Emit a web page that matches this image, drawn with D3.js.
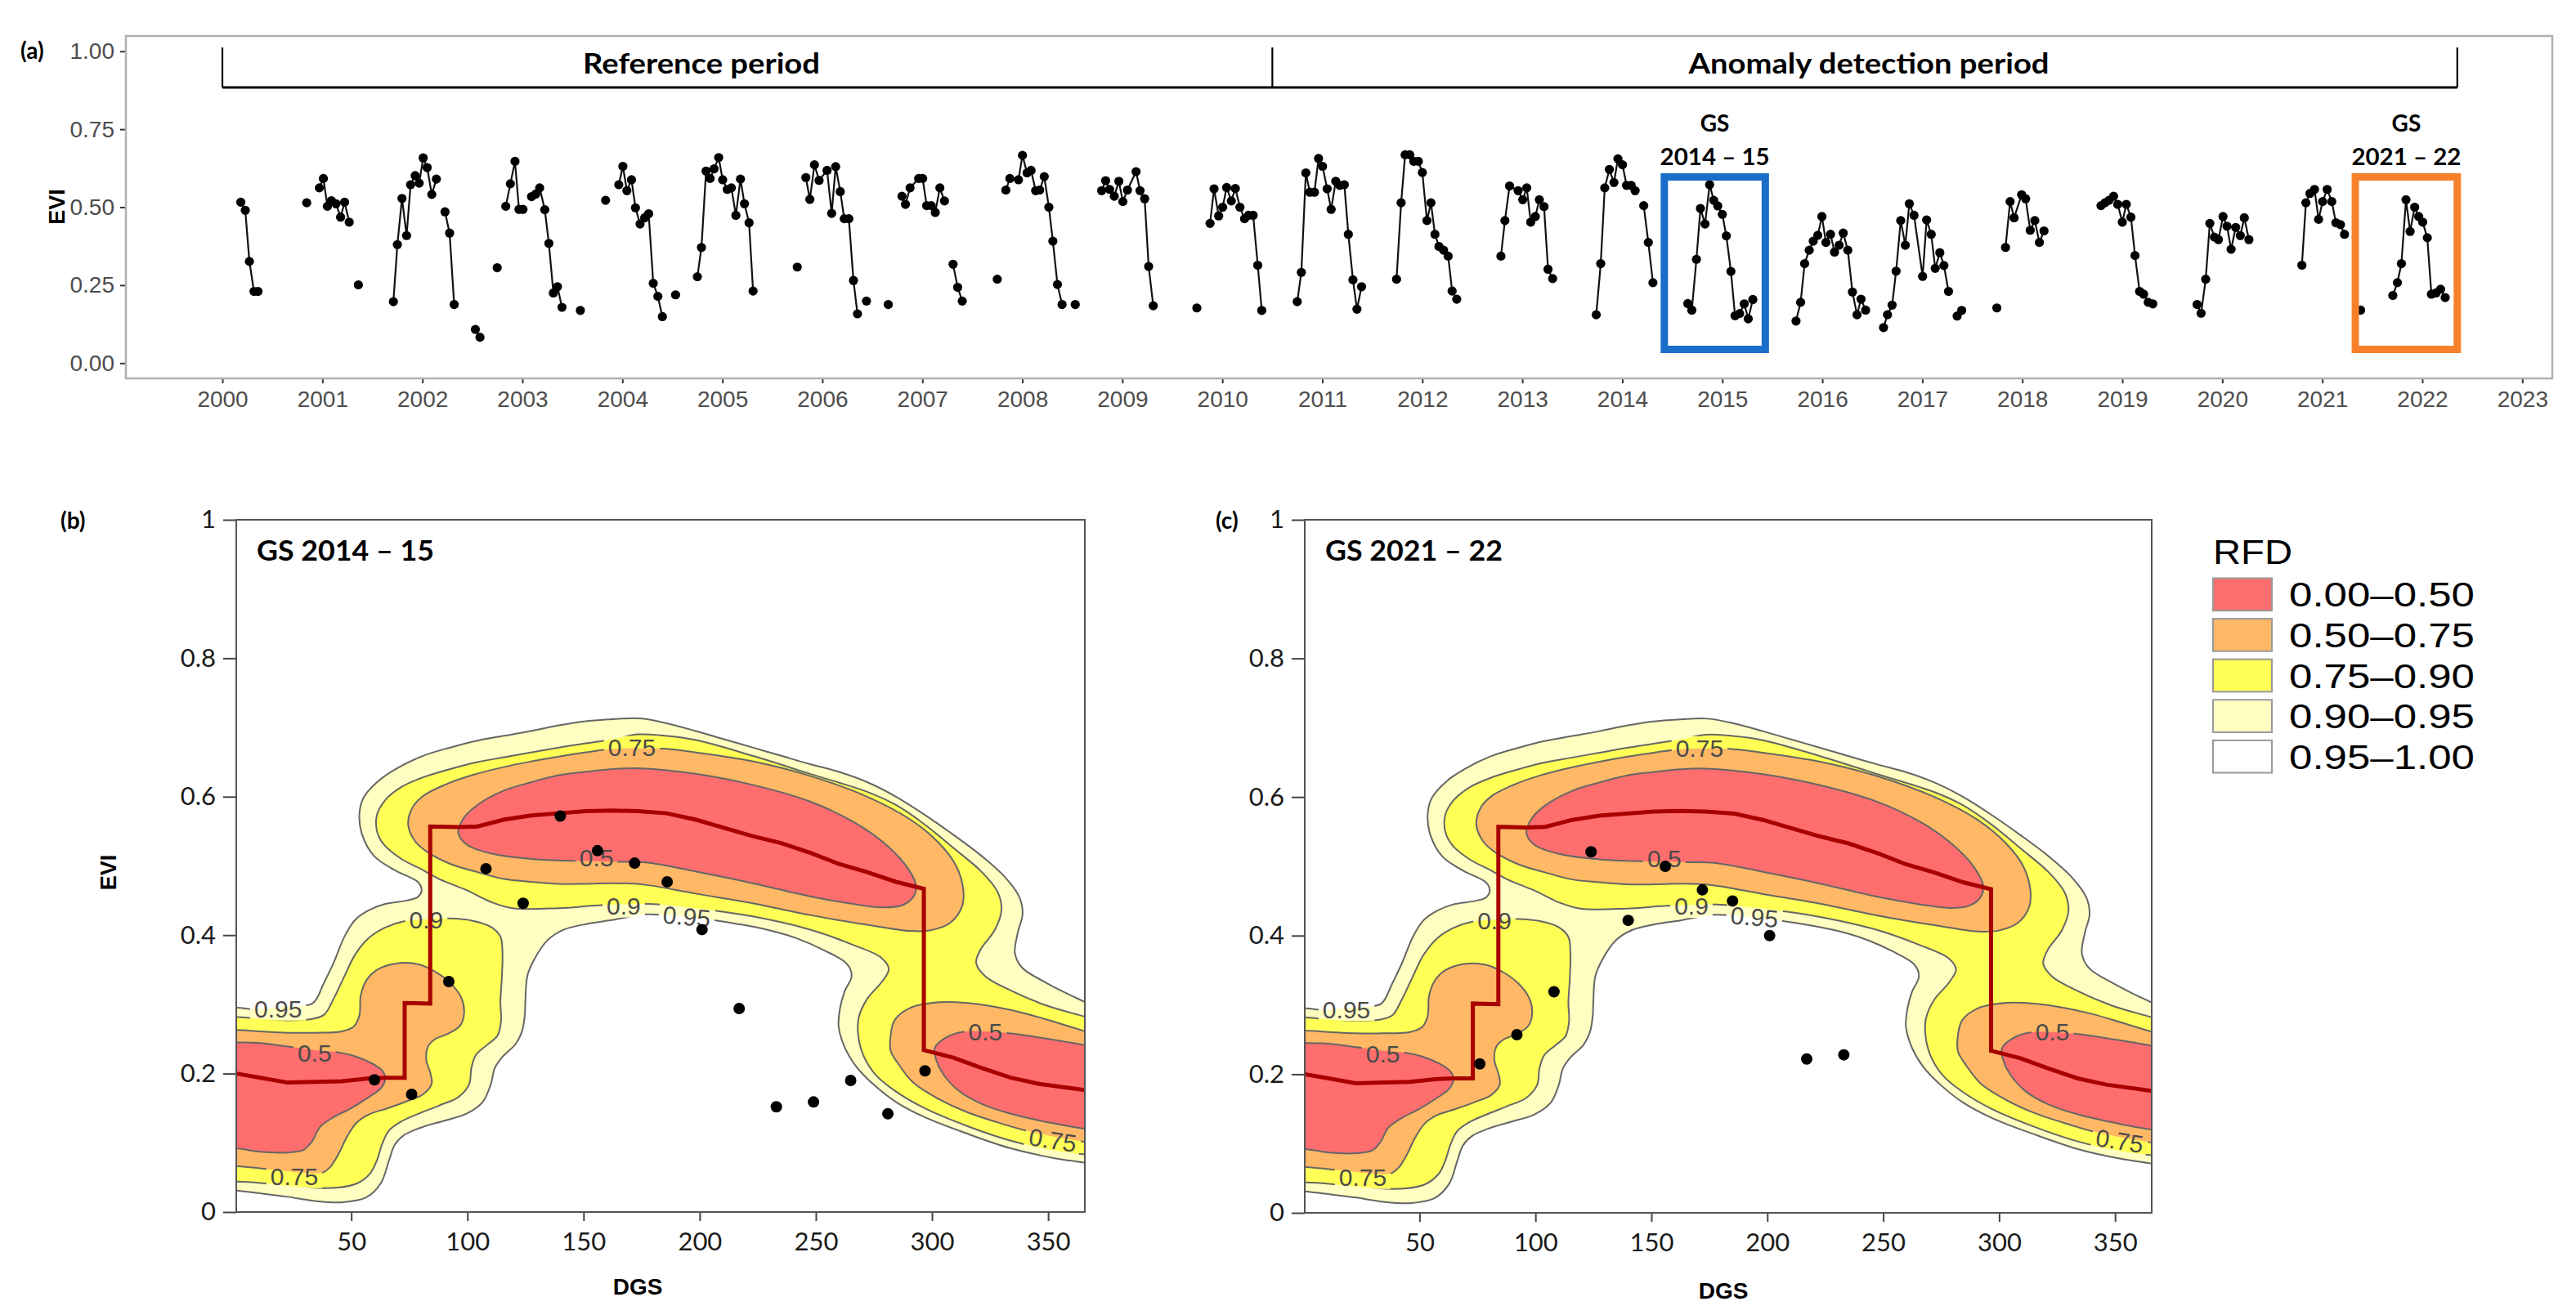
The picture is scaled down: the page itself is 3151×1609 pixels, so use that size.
<!DOCTYPE html>
<html>
<head>
<meta charset="utf-8">
<script src="https://cdn.jsdelivr.net/npm/d3@7"></script>
<style>
  body { margin: 0; background: #fff; }
  svg { display: block; }
</style>
</head>
<body>
<div id="chart"></div>
<script>
// ---------- panel (a): EVI time series, [year, EVI], null = gap ----------
var evi_ts = [
  [2000.184,0.516],[2000.229,0.490],[2000.270,0.326],[2000.316,0.230],[2000.356,0.230], null,
  [2000.843,0.514], null,
  [2000.970,0.562],[2001.010,0.592],[2001.050,0.503],[2001.090,0.521],[2001.136,0.511],[2001.182,0.468],[2001.222,0.516],[2001.268,0.452], null,
  [2001.360,0.251], null,
  [2001.710,0.197],[2001.750,0.380],[2001.796,0.528],[2001.842,0.409],[2001.882,0.572],[2001.928,0.601],[2001.968,0.577],[2002.008,0.658],[2002.048,0.627],[2002.094,0.541],[2002.140,0.590], null,
  [2002.226,0.485],[2002.272,0.417],[2002.318,0.188], null,
  [2002.530,0.108],[2002.576,0.083], null,
  [2002.748,0.306], null,
  [2002.834,0.503],[2002.880,0.575],[2002.926,0.647],[2002.966,0.493],[2003.006,0.493], null,
  [2003.092,0.534],[2003.133,0.542],[2003.173,0.562],[2003.224,0.492],[2003.265,0.384],[2003.310,0.225],[2003.351,0.245],[2003.396,0.179], null,
  [2003.580,0.169], null,
  [2003.832,0.522], null,
  [2003.964,0.572],[2004.005,0.631],[2004.045,0.553],[2004.091,0.588],[2004.131,0.498],[2004.177,0.446],[2004.223,0.466],[2004.263,0.479],[2004.309,0.256],[2004.355,0.214],[2004.400,0.149], null,
  [2004.532,0.219], null,
  [2004.750,0.277],[2004.791,0.371],[2004.837,0.616],[2004.877,0.592],[2004.917,0.623],[2004.963,0.659],[2005.003,0.588],[2005.049,0.557],[2005.090,0.562],[2005.135,0.474],[2005.181,0.590],[2005.221,0.511],[2005.267,0.450],[2005.307,0.231], null,
  [2005.749,0.308], null,
  [2005.835,0.595],[2005.875,0.525],[2005.921,0.636],[2005.967,0.586],[2006.047,0.618],[2006.093,0.480],[2006.133,0.630],[2006.179,0.550],[2006.219,0.463],[2006.265,0.463],[2006.311,0.265],[2006.351,0.158], null,
  [2006.441,0.199], null,
  [2006.659,0.188], null,
  [2006.796,0.535],[2006.831,0.509],[2006.877,0.562],[2006.963,0.592],[2007.003,0.592],[2007.043,0.505],[2007.089,0.505],[2007.129,0.483],[2007.175,0.562],[2007.221,0.520], null,
  [2007.307,0.317],[2007.353,0.243],[2007.399,0.199], null,
  [2007.749,0.269], null,
  [2007.835,0.555],[2007.875,0.592],[2007.961,0.588],[2008.001,0.666],[2008.047,0.610],[2008.087,0.618],[2008.133,0.553],[2008.173,0.555],[2008.219,0.598],[2008.265,0.500],[2008.305,0.391],[2008.351,0.252],[2008.397,0.188], null,
  [2008.529,0.188], null,
  [2008.793,0.553],[2008.833,0.585],[2008.873,0.557],[2008.919,0.535],[2008.965,0.583],[2009.005,0.518],[2009.051,0.555],[2009.137,0.614],[2009.177,0.553],[2009.223,0.527],[2009.263,0.310],[2009.309,0.184], null,
  [2009.745,0.177], null,
  [2009.877,0.448],[2009.917,0.559],[2009.963,0.472],[2010.003,0.500],[2010.043,0.563],[2010.090,0.520],[2010.130,0.560],[2010.176,0.500],[2010.222,0.463],[2010.262,0.474],[2010.308,0.474],[2010.354,0.314],[2010.394,0.169], null,
  [2010.749,0.197],[2010.790,0.291],[2010.835,0.610],[2010.875,0.548],[2010.921,0.548],[2010.962,0.656],[2011.002,0.631],[2011.048,0.559],[2011.088,0.493],[2011.134,0.583],[2011.174,0.570],[2011.220,0.572],[2011.260,0.413],[2011.306,0.267],[2011.346,0.173],[2011.392,0.245], null,
  [2011.742,0.269],[2011.788,0.514],[2011.828,0.668],[2011.874,0.668],[2011.914,0.647],[2011.960,0.647],[2012.000,0.611],[2012.046,0.457],[2012.086,0.514],[2012.126,0.413],[2012.166,0.374],[2012.212,0.362],[2012.258,0.343],[2012.298,0.231],[2012.344,0.205], null,
  [2012.786,0.343],[2012.826,0.457],[2012.872,0.568],[2012.958,0.553],[2013.004,0.524],[2013.044,0.562],[2013.084,0.452],[2013.130,0.470],[2013.170,0.524],[2013.217,0.502],[2013.257,0.301],[2013.303,0.271], null,
  [2013.739,0.155],[2013.784,0.319],[2013.824,0.562],[2013.870,0.621],[2013.916,0.579],[2013.956,0.655],[2014.002,0.636],[2014.042,0.570],[2014.088,0.570],[2014.128,0.553], null,
  [2014.214,0.505],[2014.260,0.387],[2014.306,0.258], null,
  [2014.655,0.191],[2014.695,0.170],[2014.741,0.333],[2014.781,0.496],[2014.827,0.446],[2014.873,0.572],[2014.914,0.522],[2014.954,0.504],[2015.000,0.477],[2015.040,0.408],[2015.086,0.294],[2015.127,0.152],[2015.173,0.159],[2015.219,0.190],[2015.259,0.142],[2015.305,0.204], null,
  [2015.737,0.135],[2015.783,0.195],[2015.823,0.319],[2015.869,0.362],[2015.909,0.391],[2015.955,0.410],[2015.996,0.470],[2016.036,0.387],[2016.082,0.413],[2016.122,0.356],[2016.168,0.378],[2016.209,0.417],[2016.255,0.362],[2016.301,0.228],[2016.347,0.155],[2016.387,0.205],[2016.433,0.170], null,
  [2016.612,0.114],[2016.652,0.155],[2016.698,0.186],[2016.738,0.295],[2016.784,0.457],[2016.830,0.378],[2016.870,0.511],[2016.917,0.474],[2017.003,0.278],[2017.043,0.459],[2017.089,0.413],[2017.129,0.304],[2017.175,0.354],[2017.216,0.313],[2017.262,0.230], null,
  [2017.348,0.151],[2017.394,0.169], null,
  [2017.745,0.177], null,
  [2017.832,0.371],[2017.878,0.518],[2017.918,0.466],[2017.993,0.540],[2018.033,0.527],[2018.079,0.426],[2018.125,0.457],[2018.171,0.387],[2018.217,0.424], null,
  [2018.787,0.505],[2018.827,0.514],[2018.867,0.522],[2018.913,0.535],[2018.954,0.509],[2019.000,0.452],[2019.040,0.509],[2019.086,0.468],[2019.127,0.345],[2019.173,0.230],[2019.213,0.221],[2019.259,0.195],[2019.305,0.190], null,
  [2019.748,0.188],[2019.788,0.160],[2019.834,0.269],[2019.875,0.448],[2019.921,0.404],[2019.961,0.396],[2020.007,0.470],[2020.047,0.439],[2020.088,0.365],[2020.134,0.435],[2020.180,0.409],[2020.220,0.466],[2020.266,0.396], null,
  [2020.796,0.314],[2020.836,0.514],[2020.876,0.544],[2020.922,0.557],[2020.963,0.461],[2021.003,0.518],[2021.049,0.557],[2021.095,0.518],[2021.136,0.450],[2021.182,0.444],[2021.222,0.413], null,
  [2021.383,0.170], null,
  [2021.705,0.217],[2021.751,0.258],[2021.791,0.319],[2021.837,0.524],[2021.878,0.422],[2021.924,0.500],[2021.964,0.470],[2022.004,0.452],[2022.050,0.402],[2022.091,0.221],[2022.137,0.225],[2022.183,0.237],[2022.229,0.210]
];
var yearTicks = [2000,2001,2002,2003,2004,2005,2006,2007,2008,2009,2010,2011,2012,2013,2014,2015,2016,2017,2018,2019,2020,2021,2022,2023];
var eviTicksA = [0, 0.25, 0.5, 0.75, 1];

// period bracket (years) and its vertical extent (EVI)
var periodYears = [2000, 2010.5, 2022.35];
var periodNames = ['Reference period', 'Anomaly detection period'];
var bracketEVI = [1.012, 0.884];

// highlighted growing seasons
var gsStart = [2014.42, 2021.33];
var gsEnd = [2015.43, 2022.35];
var gsBoxEVI = [0.044, 0.597];
var gsNames = ['2014 \u2013 15', '2021 \u2013 22'];

// ---------- panels (b) and (c): observations ----------
var dgsB = [60, 76, 92, 108, 124, 140, 156, 172, 186, 201, 217, 233, 249, 265, 281, 297];
var eviB = [0.191, 0.170, 0.333, 0.496, 0.446, 0.572, 0.522, 0.504, 0.477, 0.408, 0.294, 0.152, 0.159, 0.190, 0.142, 0.204];
var dgsC = [76, 92, 108, 124, 140, 156, 172, 185, 201, 217, 233];
var eviC = [0.215, 0.257, 0.319, 0.521, 0.422, 0.500, 0.466, 0.450, 0.400, 0.222, 0.228];
var dgsTicks = [50, 100, 150, 200, 250, 300, 350];
var eviTicksB = [0, 0.2, 0.4, 0.6, 0.8, 1];

// RFD contour outlines from the reference period, [DGS, EVI]
var rfd95_main = [[-8,0.290],[0.6,0.295],[8,0.293],[20,0.296],[33.1,0.301],[35.4,0.310],[37.7,0.327],[42.4,0.360],[47.1,0.398],[51.7,0.422],[57.6,0.436],[64.6,0.445],[73.9,0.450],[78.6,0.455],[80.3,0.465],[78.6,0.477],[69.2,0.493],[59.9,0.514],[54.7,0.545],[53.5,0.574],[55.2,0.598],[61.1,0.621],[69.2,0.640],[80.9,0.659],[92.6,0.671],[104.3,0.681],[115.9,0.688],[127.6,0.695],[139.3,0.703],[150.9,0.709],[162.6,0.712],[174.3,0.713],[185.7,0.706],[198.1,0.695],[210.4,0.683],[222.8,0.671],[235.1,0.659],[247.5,0.647],[259.8,0.636],[272.1,0.621],[284.5,0.600],[296.8,0.574],[309.2,0.545],[321.5,0.514],[331.4,0.484],[337.6,0.455],[339.0,0.431],[336.9,0.403],[335.7,0.374],[338.8,0.353],[348.7,0.332],[358.5,0.315],[366.0,0.303],[375.8,0.286],
  [375.8,0.064],[366.0,0.071],[352.4,0.078],[333.9,0.092],[315.3,0.113],[296.8,0.137],[284.5,0.159],[274.6,0.185],[267.2,0.211],[262.3,0.239],[259.8,0.268],[260.4,0.294],[262.3,0.318],[265.4,0.341],[263.5,0.358],[253.6,0.378],[241.3,0.396],[228.9,0.408],[216.6,0.416],[204.9,0.422],[191.9,0.427],[177.0,0.430],[162.6,0.422],[151.0,0.416],[141.6,0.408],[134.6,0.393],[128.8,0.365],[125.8,0.341],[125.0,0.308],[124.7,0.284],[123.5,0.261],[120.6,0.242],[115.3,0.225],[111.8,0.208],[110.1,0.185],[106.6,0.159],[99.6,0.142],[90.2,0.132],[80.9,0.123],[72.7,0.111],[68.7,0.097],[66.3,0.075],[62.8,0.042],[56.4,0.021],[45.9,0.014],[34.2,0.016],[22.6,0.022],[10.9,0.027],[0.6,0.031],[-8,0.035]];
var rfd90_left = [[-8,0.282],[0.6,0.282],[10.9,0.279],[22.6,0.277],[33.1,0.279],[38.3,0.285],[42.4,0.308],[47.1,0.341],[51.7,0.372],[57.6,0.396],[64.6,0.411],[72.7,0.420],[83.2,0.423],[92.6,0.424],[101.9,0.421],[110.1,0.412],[114.2,0.398],[115.1,0.374],[114.8,0.337],[114.2,0.303],[114.5,0.277],[113.0,0.255],[108.3,0.241],[103.7,0.227],[101.7,0.208],[100.8,0.185],[96.1,0.166],[87.9,0.154],[79.7,0.143],[71.6,0.131],[66.3,0.118],[63.4,0.099],[61.1,0.075],[58.2,0.056],[52.3,0.041],[43.6,0.035],[34.2,0.035],[22.6,0.038],[10.9,0.042],[0.6,0.044],[-8,0.044]];
var rfd90_hump = [[61.1,0.550],[61.1,0.574],[64.6,0.595],[71.6,0.614],[80.9,0.628],[92.6,0.640],[104.3,0.650],[115.9,0.657],[127.6,0.664],[139.3,0.671],[151.0,0.677],[162.6,0.683],[173.4,0.690],[185.0,0.688],[198.1,0.682],[222.8,0.659],[247.5,0.633],[272.1,0.607],[284.5,0.588],[296.8,0.560],[309.2,0.526],[321.5,0.491],[328.3,0.462],[329.9,0.436],[327.1,0.408],[320.9,0.379],[319.0,0.360],[322.8,0.341],[333.9,0.320],[348.7,0.299],[366.0,0.282],[375.8,0.272],
  [375.8,0.078],[366.0,0.083],[352.4,0.089],[333.9,0.103],[315.3,0.124],[296.8,0.150],[284.5,0.174],[275.8,0.198],[270.9,0.223],[268.4,0.251],[268.4,0.280],[272.1,0.308],[278.3,0.332],[281.4,0.351],[278.3,0.367],[266.0,0.386],[247.5,0.408],[222.8,0.427],[198.1,0.439],[178.3,0.445],[156.7,0.443],[139.3,0.439],[119.4,0.439],[110.1,0.448],[99.6,0.465],[87.9,0.481],[80.9,0.494],[71.6,0.510],[64.0,0.531]];
var rfd75_left = [[-8,0.263],[0.6,0.263],[10.9,0.261],[22.6,0.259],[34.2,0.259],[45.9,0.261],[51.1,0.268],[53.5,0.284],[54.1,0.313],[56.4,0.334],[61.1,0.350],[69.2,0.359],[78.6,0.358],[86.2,0.347],[92.6,0.331],[97.3,0.310],[98.6,0.289],[97.0,0.270],[92.0,0.258],[86.2,0.250],[83.0,0.239],[82.3,0.220],[84.2,0.199],[84.6,0.185],[80.9,0.170],[73.9,0.160],[65.7,0.150],[57.6,0.141],[52.3,0.129],[48.2,0.109],[44.7,0.085],[41.2,0.066],[37.7,0.057],[28.4,0.057],[16.7,0.061],[0.6,0.066],[-8,0.066]];
var rfd75_hump = [[74.5,0.560],[76.3,0.584],[80.9,0.601],[90.2,0.617],[101.9,0.631],[115.9,0.643],[127.6,0.651],[139.3,0.658],[151.0,0.664],[162.6,0.669],[173.4,0.670],[185.7,0.669],[198.1,0.664],[222.8,0.651],[247.5,0.630],[272.1,0.600],[290.7,0.567],[303.0,0.533],[310.4,0.500],[313.5,0.465],[312.9,0.441],[307.9,0.418],[299.3,0.407],[290.7,0.406],[272.1,0.415],[247.5,0.429],[222.8,0.446],[198.1,0.460],[176.0,0.473],[162.6,0.475],[151.0,0.474],[139.3,0.474],[127.6,0.477],[115.9,0.481],[104.3,0.491],[92.6,0.503],[83.2,0.519],[77.4,0.536]];
var rfd75_right = [[282.0,0.249],[283.9,0.277],[290.7,0.295],[303.0,0.303],[315.3,0.302],[327.7,0.296],[340.0,0.287],[352.4,0.275],[366.0,0.261],[375.8,0.251],[375.8,0.094],[366.0,0.101],[352.4,0.109],[340.0,0.118],[327.7,0.130],[315.3,0.144],[303.0,0.163],[291.9,0.187],[285.1,0.216],[282.3,0.232]];
var rfd50_left = [[-8,0.245],[0.6,0.245],[10.9,0.244],[22.6,0.239],[34.2,0.234],[43.6,0.231],[51.7,0.225],[58.7,0.215],[63.4,0.204],[64.6,0.192],[62.8,0.179],[57.6,0.166],[49.4,0.149],[42.4,0.137],[36.6,0.123],[33.1,0.102],[29.6,0.090],[22.6,0.086],[10.9,0.087],[0.6,0.092],[-8,0.092]];
var rfd50_hump = [[96.1,0.548],[98.4,0.569],[104.3,0.588],[115.9,0.609],[127.6,0.621],[139.3,0.631],[151.0,0.636],[162.6,0.640],[173.4,0.641],[198.1,0.633],[222.8,0.617],[247.5,0.593],[266.0,0.564],[278.3,0.536],[288.2,0.503],[293.1,0.472],[291.9,0.455],[287.0,0.443],[278.3,0.440],[266.0,0.445],[247.5,0.456],[222.8,0.475],[198.1,0.492],[177.0,0.505],[165.0,0.506],[151.0,0.507],[139.3,0.508],[127.6,0.510],[110.1,0.518],[99.6,0.531]];
var rfd50_right = [[301.2,0.237],[305.5,0.251],[312.9,0.260],[333.9,0.258],[346.2,0.252],[366.0,0.241],[375.8,0.234],[375.8,0.116],[366.0,0.120],[352.4,0.128],[333.9,0.142],[321.5,0.156],[311.6,0.175],[304.9,0.199],[301.8,0.220]];

// reference median trajectory
var medianLine = [[0.6,0.200],[10.9,0.194],[22.6,0.187],[34.2,0.188],[45.9,0.189],[57.6,0.193],[64.6,0.194],[73,0.194],[73,0.302],[84,0.301],[84,0.557],[96.1,0.556],[104.3,0.557],[115.9,0.567],[127.6,0.573],[139.3,0.576],[151.0,0.579],[162.6,0.580],[173.4,0.579],[185.7,0.576],[198.1,0.567],[210.4,0.555],[222.8,0.543],[235.1,0.533],[247.5,0.519],[259.8,0.503],[272.1,0.491],[284.5,0.477],[296.5,0.467],[296.5,0.234],[309.2,0.223],[321.5,0.208],[333.9,0.194],[346.2,0.185],[366.0,0.176]];

// contour labels [DGS, EVI, text]
var contourLabels = [[18.5,0.294,'0.95'],[34.2,0.230,'0.5'],[25.5,0.052,'0.75'],[82.3,0.422,'0.9'],[170.8,0.671,'0.75'],[155.6,0.512,'0.5'],[167.3,0.443,'0.9'],[194.4,0.427,'0.95'],[323.0,0.261,'0.5'],[352.0,0.104,'0.75']];
var contourLabelAngle = [0, 0, 0, 0, 0, 0, 0, 5, 0, 9];

// legend
var rfdClasses = ['0.00\u20130.50', '0.50\u20130.75', '0.75\u20130.90', '0.90\u20130.95', '0.95\u20131.00'];
var rfdColors = ['#ff6e6e', '#ffb866', '#ffff55', '#ffffc2', '#ffffff'];

// ------------------------------------------------------------------
var W = 3151, H = 1609;
var svg = d3.select('#chart').append('svg').attr('width', W).attr('height', H);
var defs = svg.append('defs');
var arial = '"Liberation Sans", Arial, sans-serif';
var lato = 'Lato, Carlito, Calibri, sans-serif';

// ================= panel (a) =================
var pa = {left: 154, top: 44, right: 3122, bottom: 463};
var xA = d3.scaleLinear().domain([1999.035, 2023.30]).range([pa.left, pa.right]);
var yA = d3.scaleLinear().domain([-0.049, 1.049]).range([pa.bottom, pa.top]);

var gA = svg.append('g');

var yAxisA = d3.axisLeft(yA).tickValues(eviTicksA).tickFormat(d3.format('.2f')).tickSize(7).tickPadding(7);
var gyA = gA.append('g').attr('transform', `translate(${pa.left},0)`).call(yAxisA);
var xAxisA = d3.axisBottom(xA).tickValues(yearTicks).tickFormat(d3.format('d')).tickSize(6).tickPadding(9);
var gxA = gA.append('g').attr('transform', `translate(0,${pa.bottom})`).call(xAxisA);
[gyA, gxA].forEach(function (g) {
  g.select('.domain').remove();
  g.selectAll('line').attr('stroke', '#333').attr('stroke-width', 2);
  g.selectAll('text').attr('fill', '#4d4d4d').style('font-family', arial).style('font-size', '28px');
});

gA.append('rect')
  .attr('x', pa.left).attr('y', pa.top)
  .attr('width', pa.right - pa.left).attr('height', pa.bottom - pa.top)
  .attr('fill', 'none').attr('stroke', '#b0b0b0').attr('stroke-width', 2.5);

gA.append('text')
  .attr('transform', `translate(79,253) rotate(-90)`)
  .attr('text-anchor', 'middle')
  .style('font-family', arial).style('font-size', '27px').style('font-weight', 'bold')
  .text('EVI');

gA.append('text').attr('x', 25).attr('y', 72)
  .style('font-family', lato).style('font-size', '28px').style('font-weight', 'bold')
  .text('(a)');

// bracket over the two periods
var bracket = gA.append('g').attr('stroke', '#000').attr('fill', 'none');
bracket.append('line')
  .attr('x1', xA(periodYears[0])).attr('x2', xA(periodYears[2]))
  .attr('y1', yA(bracketEVI[1])).attr('y2', yA(bracketEVI[1]))
  .attr('stroke-width', 3);
periodYears.forEach(function (yr) {
  bracket.append('line')
    .attr('x1', xA(yr)).attr('x2', xA(yr))
    .attr('y1', yA(bracketEVI[0])).attr('y2', yA(bracketEVI[1]))
    .attr('stroke-width', 2.2);
});
var periodTextX = [858, 2286];
var periodTextW = [290, 441];
periodNames.forEach(function (name, i) {
  gA.append('text')
    .attr('x', periodTextX[i]).attr('y', 90)
    .attr('text-anchor', 'middle')
    .attr('textLength', periodTextW[i]).attr('lengthAdjust', 'spacingAndGlyphs')
    .style('font-family', lato).style('font-size', '35px').style('font-weight', 'bold')
    .text(name);
});

// series
var lineA = d3.line()
  .defined(d => d !== null)
  .x(d => xA(d[0]))
  .y(d => yA(d[1]));
gA.append('path')
  .attr('d', lineA(evi_ts))
  .attr('fill', 'none').attr('stroke', '#111').attr('stroke-width', 2.2);
gA.selectAll('circle.ts')
  .data(evi_ts.filter(d => d !== null))
  .enter().append('circle')
  .attr('class', 'ts')
  .attr('cx', d => xA(d[0]))
  .attr('cy', d => yA(d[1]))
  .attr('r', 5.6)
  .attr('fill', '#000');

// growing season boxes
var gsColors = ['#1b6dca', '#f7812b'];
gsStart.forEach(function (s, i) {
  var x0 = xA(s), x1 = xA(gsEnd[i]);
  gA.append('rect')
    .attr('x', x0).attr('y', yA(gsBoxEVI[1]))
    .attr('width', x1 - x0).attr('height', yA(gsBoxEVI[0]) - yA(gsBoxEVI[1]))
    .attr('fill', 'none').attr('stroke', gsColors[i]).attr('stroke-width', 9);
  var cx = (x0 + x1) / 2;
  gA.append('text').attr('x', cx).attr('y', 161).attr('text-anchor', 'middle')
    .style('font-family', lato).style('font-size', '28px').style('font-weight', 'bold')
    .text('GS');
  gA.append('text').attr('x', cx).attr('y', 202).attr('text-anchor', 'middle')
    .attr('textLength', 134).attr('lengthAdjust', 'spacingAndGlyphs')
    .style('font-family', lato).style('font-size', '29px').style('font-weight', 'bold')
    .text(gsNames[i]);
});

// ================= panels (b) and (c) =================
var levels = [
  {rings: [rfd95_main], fill: rfdColors[3]},
  {rings: [rfd90_left, rfd90_hump], fill: rfdColors[2]},
  {rings: [rfd75_left, rfd75_hump, rfd75_right], fill: rfdColors[1]},
  {rings: [rfd50_left, rfd50_hump, rfd50_right], fill: rfdColors[0]}
];

function drawPanel(id, box, dgs, evi, title, letter, letterX, showYLabel, dgsLabelPos) {
  var x = d3.scaleLinear().domain([0.5, 365.8]).range([box.left, box.right]);
  var y = d3.scaleLinear().domain([0, 1]).range([box.bottom, box.top]);
  var g = svg.append('g');

  defs.append('clipPath').attr('id', id + '-clip')
    .append('rect').attr('x', box.left).attr('y', box.top)
    .attr('width', box.right - box.left).attr('height', box.bottom - box.top);
  var mask = defs.append('mask').attr('id', id + '-mask')
    .attr('maskUnits', 'userSpaceOnUse').attr('x', 0).attr('y', 0).attr('width', W).attr('height', H);
  mask.append('rect').attr('x', 0).attr('y', 0).attr('width', W).attr('height', H).attr('fill', '#fff');

  var ring = d3.line()
    .x(d => x(d[0])).y(d => y(d[1]))
    .curve(d3.curveCatmullRomClosed.alpha(0.5));

  var fills = g.append('g').attr('clip-path', `url(#${id}-clip)`);
  var strokes = g.append('g').attr('clip-path', `url(#${id}-clip)`)
    .append('g').attr('mask', `url(#${id}-mask)`);
  levels.forEach(function (lv) {
    lv.rings.forEach(function (r) {
      fills.append('path').attr('d', ring(r)).attr('fill', lv.fill).attr('stroke', 'none');
      strokes.append('path').attr('d', ring(r)).attr('fill', 'none')
        .attr('stroke', '#666').attr('stroke-width', 2);
    });
  });

  // contour labels, with a gap cut in the lines
  contourLabels.forEach(function (lb, i) {
    var tr = `translate(${x(lb[0])},${y(lb[1])}) rotate(${contourLabelAngle[i]})`;
    var t = g.append('text')
      .attr('transform', tr)
      .attr('text-anchor', 'middle').attr('dy', '0.36em')
      .attr('fill', '#4a4a4a')
      .style('font-family', arial).style('font-size', '30px')
      .text(lb[2]);
    var bb = t.node().getBBox();
    mask.append('rect').attr('transform', tr)
      .attr('x', bb.x - 5).attr('y', bb.y + 2)
      .attr('width', bb.width + 10).attr('height', bb.height - 4)
      .attr('fill', '#000');
  });

  // median trajectory
  g.append('path')
    .attr('clip-path', `url(#${id}-clip)`)
    .attr('d', d3.line().x(d => x(d[0])).y(d => y(d[1]))(medianLine))
    .attr('fill', 'none').attr('stroke', '#a80000').attr('stroke-width', 5)
    .attr('stroke-linejoin', 'miter');

  // observations
  g.selectAll('circle.obs')
    .data(dgs.map((d, i) => [d, evi[i]]))
    .enter().append('circle')
    .attr('class', 'obs')
    .attr('cx', d => x(d[0])).attr('cy', d => y(d[1]))
    .attr('r', 7).attr('fill', '#000');

  // axes
  var gy = g.append('g').attr('transform', `translate(${box.left},0)`)
    .call(d3.axisLeft(y).tickValues(eviTicksB).tickFormat(d3.format('~g')).tickSize(16).tickPadding(9));
  var gx = g.append('g').attr('transform', `translate(0,${box.bottom})`)
    .call(d3.axisBottom(x).tickValues(dgsTicks).tickFormat(d3.format('d')).tickSize(11).tickPadding(14));
  [gy, gx].forEach(function (ga) {
    ga.select('.domain').remove();
    ga.selectAll('line').attr('stroke', '#444').attr('stroke-width', 2);
    ga.selectAll('text').attr('fill', '#1a1a1a').style('font-family', lato).style('font-size', '31px');
  });

  g.append('rect')
    .attr('x', box.left).attr('y', box.top)
    .attr('width', box.right - box.left).attr('height', box.bottom - box.top)
    .attr('fill', 'none').attr('stroke', '#555').attr('stroke-width', 2);

  g.append('text').attr('x', box.left + 25).attr('y', 686)
    .attr('textLength', 217).attr('lengthAdjust', 'spacingAndGlyphs')
    .style('font-family', lato).style('font-size', '34px').style('font-weight', 'bold')
    .text(title);

  g.append('text').attr('x', letterX).attr('y', 647)
    .style('font-family', lato).style('font-size', '28px').style('font-weight', 'bold')
    .text(letter);

  g.append('text').attr('x', dgsLabelPos[0]).attr('y', dgsLabelPos[1])
    .attr('text-anchor', 'middle')
    .style('font-family', arial).style('font-size', '28px').style('font-weight', 'bold')
    .text('DGS');

  if (showYLabel) {
    g.append('text')
      .attr('transform', `translate(142,${(box.top + box.bottom) / 2 + 8}) rotate(-90)`)
      .attr('text-anchor', 'middle')
      .style('font-family', arial).style('font-size', '27px').style('font-weight', 'bold')
      .text('EVI');
  }
}

drawPanel('pb', {left: 289, right: 1327, top: 636, bottom: 1483}, dgsB, eviB, 'GS 2014 \u2013 15', '(b)', 74, true, [780, 1584]);
drawPanel('pc', {left: 1596, right: 2632, top: 636, bottom: 1484}, dgsC, eviC, 'GS 2021 \u2013 22', '(c)', 1487, false, [2108, 1589]);

// ================= legend =================
var lg = svg.append('g').attr('transform', 'translate(2707,0)');
lg.append('text').attr('x', 0).attr('y', 690)
  .attr('textLength', 97).attr('lengthAdjust', 'spacingAndGlyphs')
  .style('font-family', arial).style('font-size', '42px')
  .text('RFD');
var rowY = d3.scaleBand().domain(rfdClasses).range([705, 948]).paddingInner(0.2).paddingOuter(0.05);
rfdClasses.forEach(function (c, i) {
  lg.append('rect')
    .attr('x', 0).attr('y', rowY(c))
    .attr('width', 72).attr('height', rowY.bandwidth())
    .attr('fill', rfdColors[i]).attr('stroke', '#999').attr('stroke-width', 2);
  lg.append('text')
    .attr('x', 93).attr('y', rowY(c) + rowY.bandwidth() / 2 + 15)
    .attr('textLength', 227).attr('lengthAdjust', 'spacingAndGlyphs')
    .style('font-family', arial).style('font-size', '42px')
    .text(c);
});
</script>
</body>
</html>
